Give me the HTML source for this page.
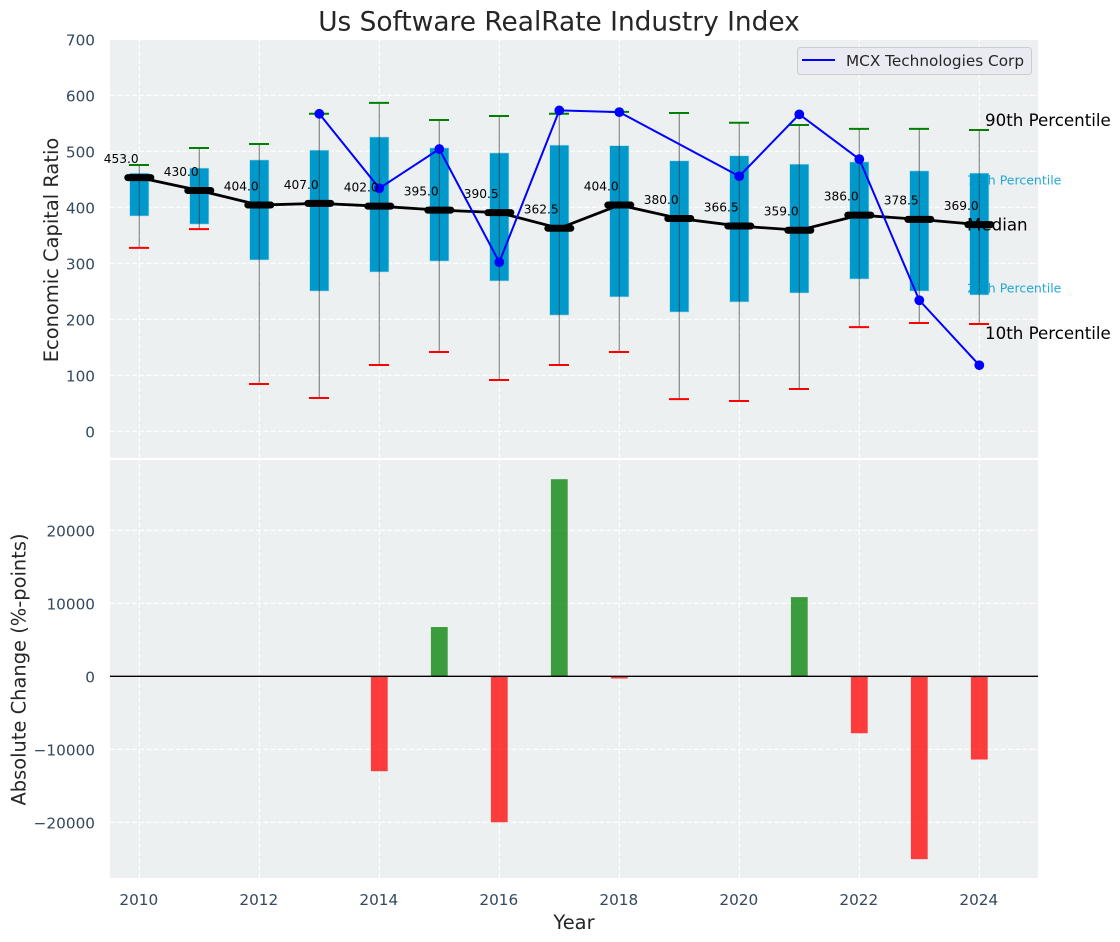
<!DOCTYPE html>
<html lang="en">
<head>
<meta charset="utf-8">
<title>Us Software RealRate Industry Index</title>
<style>
html,body{margin:0;padding:0;background:#fff;}
#chart{display:block;width:1120px;height:942px;font-family:"DejaVu Sans","Liberation Sans",sans-serif;}
</style>
</head>
<body>
<svg id="chart" xmlns="http://www.w3.org/2000/svg" width="1120" height="942" viewBox="0 0 1120 942">
  <rect x="110" y="40" width="928" height="418" fill="#ecf0f1"/>
  <rect x="110" y="460" width="928" height="418" fill="#ecf0f1"/>
  <g id="grid"></g>
  <text x="559" y="30.5" font-size="26.4px" text-anchor="middle" fill="#262626">Us Software RealRate Industry Index</text>
  <text transform="translate(58,250) rotate(-90)" font-size="19.45px" text-anchor="middle" fill="#262626">Economic Capital Ratio</text>
  <text transform="translate(25.5,669.5) rotate(-90)" font-size="19.45px" text-anchor="middle" fill="#262626">Absolute Change (%-points)</text>
  <text x="574" y="929" font-size="19.45px" text-anchor="middle" fill="#262626">Year</text>
  <g id="ticks"></g>
  <g id="boxes"></g>
  <g id="medians"></g>
  <g id="company"></g>
  <g id="median-labels"></g>
  <g id="annotations">
    <text x="985" y="126" font-size="16.67px" fill="#000">90th Percentile</text>
    <text x="967" y="184.5" font-size="12.5px" fill="#0099cc" fill-opacity="0.85">75th Percentile</text>
    <text x="967" y="230.5" font-size="16.67px" fill="#000">Median</text>
    <text x="967" y="292.5" font-size="12.5px" fill="#0099cc" fill-opacity="0.85">25th Percentile</text>
    <text x="985" y="339" font-size="16.67px" fill="#000">10th Percentile</text>
  </g>
  <g id="bars"></g>
  <line x1="110" x2="1038" y1="676.3" y2="676.3" stroke="#000" stroke-width="1.4"/>
  <g>
    <rect x="797.5" y="47.5" width="234" height="27" rx="3" fill="#eaeaf2" fill-opacity="0.9" stroke="#cccccc" stroke-width="1"/>
    <line x1="802" x2="835" y1="60" y2="60" stroke="#0000ff" stroke-width="2"/>
    <text x="846" y="66" font-size="15.28px" fill="#262626">MCX Technologies Corp</text>
  </g>
</svg>
<script>
const years = [2010,2011,2012,2013,2014,2015,2016,2017,2018,2019,2020,2021,2022,2023,2024];
const p90 = [475.5,506,513,567,586.5,556,563,567,570.5,568.5,551,547,540,540,538];
const p75 = [461,470,484.5,502,525.5,506,497,511,510,483,492,477,481,465,461];
const medianValues = [453,430,404,407,402,395,390.5,362.5,404,380,366.5,359,386,378.5,369];
const p25 = [384.5,370,306,250.5,284.5,304,268.5,207.5,240,213,231,247,272,250.5,243.5];
const p10 = [327.5,361,84.5,59.5,118.5,141.5,91.5,118.5,141.5,57.5,54,75.5,186,193.5,191.5];
const companyValues = [null,null,null,567,434,504,302,573,570,null,455.5,566,486,234,118];
const changeValues = [null,null,null,null,-13000,6750,-20000,27000,-300,null,null,10850,-7800,-25050,-11400];
const xTickValues = [2010,2012,2014,2016,2018,2020,2022,2024];
const upperTickValues = [0,100,200,300,400,500,600,700];
const lowerTickValues = [-20000,-10000,0,10000,20000];

const xScale = function (year) { return 139.3 + (year - 2010) * 60; };
const yUpper = function (v) { return 431.3 - v * 0.56; };
const yLower = function (v) { return 676.3 - v * 0.0073; };

const SVG_NS = 'http://www.w3.org/2000/svg';
function make(parentId, tag, attrs, text) {
  const node = document.createElementNS(SVG_NS, tag);
  Object.keys(attrs).forEach(function (k) { node.setAttribute(k, attrs[k]); });
  if (text !== undefined) node.textContent = text;
  document.getElementById(parentId).appendChild(node);
  return node;
}
const gridStyle = {stroke:'#ffffff','stroke-width':1.1,'stroke-dasharray':'5.1 2.2'};
let el;

xTickValues.forEach(function (t) {
  [[40,458],[460,878]].forEach(function (span) {
    el = make('grid','line',Object.assign({x1:xScale(t),x2:xScale(t),y1:span[1],y2:span[0]},gridStyle));
    
    
  });
  el = make('ticks','text',{x:xScale(t)-0.5,y:905,'font-size':'15.28px','text-anchor':'middle',fill:'#34495e'},String(t));
  
  
});
upperTickValues.forEach(function (t) {
  el = make('grid','line',Object.assign({x1:110,x2:1038,y1:yUpper(t),y2:yUpper(t)},gridStyle));
  
  
  el = make('ticks','text',{x:95,y:yUpper(t)+6,'font-size':'15.28px','text-anchor':'end',fill:'#34495e'},String(t));
  
  
});
lowerTickValues.forEach(function (t) {
  el = make('grid','line',Object.assign({x1:110,x2:1038,y1:yLower(t),y2:yLower(t)},gridStyle));
  
  
  el = make('ticks','text',{x:95,y:yLower(t)+6,'font-size':'15.28px','text-anchor':'end',fill:'#34495e'},String(t).replace('-','\u2212'));
  
  
});

years.forEach(function (year, i) {
  const x = xScale(year);
  el = make('boxes','rect',{x:x-9.6,y:yUpper(p75[i]),width:19.2,height:yUpper(p25[i])-yUpper(p75[i]),fill:'#0099cc',stroke:'#a8dcec','stroke-width':0.6});
  
  
  el = make('boxes','line',{x1:x,x2:x,y1:yUpper(p90[i]),y2:yUpper(p10[i]),stroke:'#333333','stroke-opacity':0.55,'stroke-width':1.2});
  
  
  el = make('boxes','line',{x1:x-10.3,x2:x+9.7,y1:yUpper(p90[i]),y2:yUpper(p90[i]),stroke:'#008000','stroke-width':2});
  
  
  el = make('boxes','line',{x1:x-10.3,x2:x+9.7,y1:yUpper(p10[i]),y2:yUpper(p10[i]),stroke:'#ff0000','stroke-width':2});
  
  
});

el = make('medians','polyline',{points:years.map(function (y,i){return xScale(y)+','+yUpper(medianValues[i]);}).join(' '),fill:'none',stroke:'#000','stroke-width':2.8});


years.forEach(function (year, i) {
  const x = xScale(year), y = yUpper(medianValues[i]);
  el = make('medians','line',{x1:x-11.5,x2:x+11.5,y1:y,y2:y,stroke:'#000','stroke-width':7,'stroke-linecap':'round'});
  
  
  el = make('median-labels','text',{x:x-0.6,y:y-14.6,'font-size':'12.2px','text-anchor':'end',fill:'#000'},medianValues[i].toFixed(1));
  
  
});

const companyPoints = years.map(function (y,i){return companyValues[i]===null?null:[xScale(y),yUpper(companyValues[i])];}).filter(Boolean);
el = make('company','polyline',{points:companyPoints.map(function (p){return p.join(',');}).join(' '),fill:'none',stroke:'#0000ff','stroke-width':2});


companyPoints.forEach(function (p) {
  el = make('company','circle',{cx:p[0],cy:p[1],r:4.9,fill:'#0000ff'});
  
  
});

years.forEach(function (year, i) {
  const v = changeValues[i];
  if (v === null) return;
  const top = Math.min(yLower(0), yLower(v));
  const h = Math.abs(yLower(v) - yLower(0));
  el = make('bars','rect',{x:xScale(year)-8.4,y:top,width:16.8,height:h,fill:v>=0?'#008000':'#ff0000','fill-opacity':0.75});
  
  
});
</script>
</body>
</html>
